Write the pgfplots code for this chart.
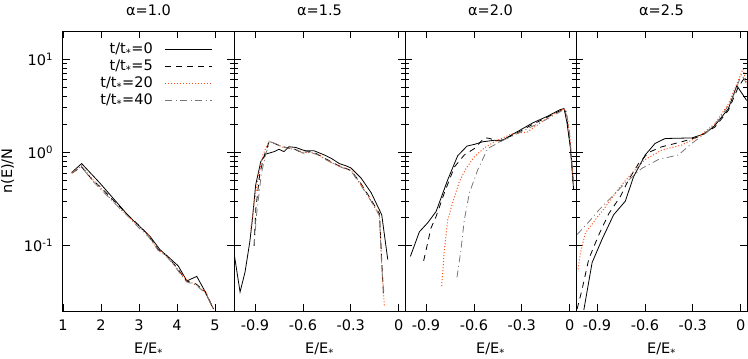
\documentclass[border=0pt]{standalone}
\usepackage{fontspec}
\setmainfont{DejaVu Sans}
\usepackage{pgfplots}
\pgfplotsset{compat=1.18}
\usepgfplotslibrary{groupplots}
\definecolor{cOr}{RGB}{255,80,20}
\definecolor{cGr}{RGB}{120,120,120}

\pgfplotsset{
  s0/.style={black, line width=0.8bp},
  s5/.style={black, line width=0.8bp, dash pattern=on 6bp off 5bp},
  s20/.style={cOr, line width=1bp, dash pattern=on 1bp off 2bp},
  s40/.style={cGr, line width=0.8bp, dash pattern=on 7bp off 3.5bp on 1bp off 3.5bp},
}

\begin{document}
\fontsize{14.5bp}{17bp}\selectfont
\begin{tikzpicture}
\begin{groupplot}[
  group style={group name=G, group size=4 by 1, horizontal sep=0pt},
  width=171bp, height=280bp, scale only axis,
  ymode=log, ymin=0.02, ymax=20,
  ytick={0.1,1,10}, yticklabels={},
  tick align=inside, major tick length=7bp, minor tick length=4bp,
  axis line style={line width=1bp},
  every tick/.style={black, line width=0.8bp},
  xlabel={E/E\textsubscript{*}},
  /pgf/number format/assume math mode=true,
  tick label style={font=\fontsize{14.5bp}{17bp}\selectfont},
  xticklabel style={yshift=-4bp},
  yticklabel style={xshift=-5bp},
  label style={font=\fontsize{14.5bp}{17bp}\selectfont},
  xlabel style={yshift=-2bp},
  title style={font=\fontsize{14.5bp}{17bp}\selectfont, yshift=4bp},
  xmin=-1.032, xmax=0.04, xtick={-0.9,-0.6,-0.3,0}, xticklabels={-0.9,-0.6,-0.3,0},
]
% alpha = 1.0
\nextgroupplot[title={α=1.0}, xmin=1, xmax=5.5, xtick={1,2,3,4,5}, xticklabels={1,2,3,4,5},
  yticklabels={10\textsuperscript{-1},10\textsuperscript{0},10\textsuperscript{1}},
  ylabel={n(E)/N},
  legend style={draw=none, fill=none, at={(1,1)}, anchor=north east, xshift=-18bp, yshift=-8bp,
    font=\fontsize{14.5bp}{17bp}\selectfont, row sep=0bp, column sep=10bp},
  legend cell align=right, legend plot pos=right,
  legend image code/.code={\draw[#1] (0bp,0bp) -- (47bp,0bp);}]
\addplot[s0] coordinates {(1.23,0.61)(1.49,0.76)(1.97,0.47)(2.72,0.21)(3.29,0.126)(3.55,0.091)(3.77,0.076)(4.03,0.061)(4.26,0.042)(4.52,0.047)(4.71,0.034)(4.96,0.021)};
\addlegendentry{t/t\textsubscript{*}=0}
\addplot[s5] coordinates {(1.23,0.60)(1.49,0.70)(1.75,0.52)(2.0,0.42)(2.5,0.26)(2.75,0.205)(3.0,0.165)(3.25,0.13)(3.5,0.092)(3.75,0.077)(4.0,0.058)(4.25,0.042)(4.5,0.039)(4.75,0.032)(4.96,0.021)};
\addlegendentry{t/t\textsubscript{*}=5}
\addplot[s20] coordinates {(1.23,0.60)(1.49,0.72)(1.75,0.53)(2.0,0.41)(2.5,0.25)(2.75,0.20)(3.0,0.16)(3.25,0.13)(3.5,0.09)(3.75,0.078)(4.0,0.057)(4.25,0.043)(4.5,0.038)(4.75,0.032)(4.96,0.021)};
\addlegendentry{t/t\textsubscript{*}=20}
\addplot[s40] coordinates {(1.23,0.61)(1.49,0.70)(1.75,0.51)(2.0,0.40)(2.5,0.25)(2.75,0.20)(3.0,0.155)(3.25,0.125)(3.5,0.09)(3.75,0.075)(4.0,0.056)(4.25,0.041)(4.5,0.038)(4.75,0.031)(4.96,0.021)};
\addlegendentry{t/t\textsubscript{*}=40}
% alpha = 1.5
\nextgroupplot[title={α=1.5}]
\addplot[s0] coordinates {(-1.032,0.084)(-0.994,0.032)(-0.963,0.052)(-0.933,0.11)(-0.917,0.19)(-0.896,0.45)(-0.864,0.80)(-0.833,0.96)(-0.78,1.02)(-0.75,1.08)(-0.719,1.02)(-0.687,1.15)(-0.644,1.13)(-0.6,1.06)(-0.581,1.04)(-0.529,1.04)(-0.466,0.94)(-0.42,0.86)(-0.372,0.76)(-0.33,0.72)(-0.298,0.68)(-0.235,0.53)(-0.172,0.37)(-0.106,0.215)(-0.068,0.071)};
\addplot[s5] coordinates {(-0.906,0.1)(-0.895,0.25)(-0.87,0.6)(-0.84,0.95)(-0.812,1.30)(-0.78,1.25)(-0.728,1.15)(-0.69,1.12)(-0.65,1.08)(-0.612,1.0)(-0.56,1.02)(-0.52,0.98)(-0.466,0.87)(-0.382,0.73)(-0.298,0.64)(-0.235,0.46)(-0.172,0.31)(-0.12,0.22)(-0.106,0.07)(-0.095,0.03)};
\addplot[s20] coordinates {(-0.927,0.15)(-0.91,0.25)(-0.88,0.55)(-0.85,0.95)(-0.812,1.32)(-0.78,1.25)(-0.728,1.14)(-0.68,1.1)(-0.64,1.07)(-0.6,1.0)(-0.55,1.0)(-0.5,0.95)(-0.466,0.86)(-0.382,0.72)(-0.298,0.64)(-0.235,0.45)(-0.172,0.30)(-0.12,0.21)(-0.106,0.06)(-0.089,0.022)};
\addplot[s40] coordinates {(-0.906,0.1)(-0.89,0.22)(-0.86,0.6)(-0.83,1.0)(-0.805,1.3)(-0.77,1.24)(-0.728,1.15)(-0.68,1.1)(-0.63,1.05)(-0.6,0.98)(-0.55,1.0)(-0.5,0.93)(-0.466,0.85)(-0.382,0.72)(-0.298,0.63)(-0.235,0.44)(-0.172,0.30)(-0.12,0.21)(-0.106,0.06)(-0.092,0.03)};
% alpha = 2.0
\nextgroupplot[title={α=2.0}]
\addplot[s0] coordinates {(-0.998,0.077)(-0.942,0.141)(-0.89,0.176)(-0.837,0.233)(-0.764,0.51)(-0.702,0.92)(-0.643,1.17)(-0.597,1.22)(-0.545,1.3)(-0.472,1.35)(-0.43,1.32)(-0.367,1.53)(-0.304,1.76)(-0.232,2.07)(-0.137,2.45)(-0.06,2.87)(-0.035,2.95)(-0.017,2.1)(0.004,1.15)(0.014,0.7)(0.025,0.4)};
\addplot[s5] coordinates {(-0.915,0.069)(-0.869,0.155)(-0.837,0.206)(-0.785,0.37)(-0.722,0.70)(-0.66,0.94)(-0.597,1.1)(-0.534,1.44)(-0.5,1.41)(-0.47,1.35)(-0.43,1.35)(-0.367,1.5)(-0.3,1.72)(-0.232,2.0)(-0.137,2.4)(-0.06,2.8)(-0.03,2.92)(-0.015,2.2)(0.004,1.2)(0.014,0.75)(0.025,0.42)};
\addplot[s20] coordinates {(-0.802,0.037)(-0.785,0.091)(-0.764,0.19)(-0.733,0.29)(-0.691,0.49)(-0.649,0.675)(-0.597,0.90)(-0.534,1.12)(-0.472,1.30)(-0.367,1.57)(-0.263,1.66)(-0.179,2.1)(-0.096,2.6)(-0.033,2.94)(-0.012,2.2)(0.004,1.3)(0.014,0.8)(0.025,0.45)};
\addplot[s40] coordinates {(-0.706,0.046)(-0.681,0.091)(-0.66,0.19)(-0.628,0.37)(-0.576,0.65)(-0.514,1.1)(-0.409,1.37)(-0.304,1.66)(-0.158,2.2)(-0.044,2.82)(-0.02,2.75)(0.0,1.6)(0.014,0.8)(0.025,0.45)};
% alpha = 2.5
\nextgroupplot[title={α=2.5}]
\addplot[s0] coordinates {(-0.983,0.0205)(-0.931,0.066)(-0.869,0.117)(-0.796,0.215)(-0.723,0.30)(-0.671,0.55)(-0.598,0.94)(-0.536,1.25)(-0.473,1.41)(-0.306,1.43)(-0.223,1.59)(-0.161,1.95)(-0.077,2.94)(-0.024,5.2)(0.038,3.6)};
\addplot[s5] coordinates {(-1.025,0.021)(-0.994,0.034)(-0.952,0.072)(-0.89,0.13)(-0.827,0.22)(-0.754,0.337)(-0.702,0.51)(-0.64,0.76)(-0.577,1.0)(-0.494,1.15)(-0.369,1.30)(-0.265,1.47)(-0.161,1.87)(-0.077,2.82)(-0.015,5.0)(0.027,6.4)};
\addplot[s20] coordinates {(-1.019,0.056)(-1.004,0.084)(-0.973,0.137)(-0.911,0.19)(-0.848,0.26)(-0.765,0.41)(-0.681,0.60)(-0.598,0.84)(-0.494,1.06)(-0.369,1.2)(-0.265,1.47)(-0.161,2.03)(-0.077,3.3)(0.015,7.8)(0.038,5.4)};
\addplot[s40] coordinates {(-1.025,0.132)(-0.952,0.18)(-0.89,0.24)(-0.806,0.337)(-0.723,0.47)(-0.619,0.675)(-0.515,0.84)(-0.39,0.94)(-0.306,1.25)(-0.223,1.59)(-0.14,2.2)(-0.056,3.6)(0.006,6.9)(0.038,5.4)};
\end{groupplot}
\pgfresetboundingbox
\path[use as bounding box] ([xshift=-63bp,yshift=31bp]G c1r1.north west) rectangle ([xshift=1bp,yshift=-48bp]G c4r1.south east);
\end{tikzpicture}
\end{document}
